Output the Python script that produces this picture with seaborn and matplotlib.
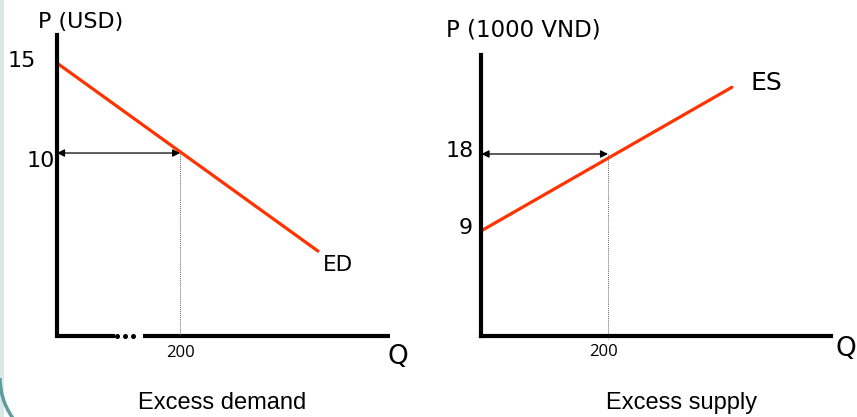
import matplotlib
matplotlib.use("Agg")
import matplotlib.pyplot as plt
import seaborn as sns
from matplotlib.patches import Arc, Rectangle

sns.set_theme(style="white")
plt.rcParams['font.family'] = ['DejaVu Sans']
plt.rcParams['text.color'] = 'black'

# ---- data ----
ed_q = [0, 424]
ed_p = [15, 4.55]
es_q = [0, 395]
es_p = [9, 25.8]
ed_point = (200, 10)
es_point = (200, 18)
left_yticks = [15, 10]
right_yticks = [18, 9]
q_tick = 200
titles = ["Excess demand", "Excess supply"]
ylabels = ["P (USD)", "P (1000 VND)"]
curve_labels = ["ED", "ES"]

RED = "#ff3300"
W, H = 857, 417
fig = plt.figure(figsize=(W / 100, H / 100), dpi=100)
fig.patch.set_facecolor("white")

def fx(px):
    return px / W

def fy(py):
    return 1 - py / H

# slide decoration
fig.patches.append(Rectangle((0, 0), fx(3.5), 1, transform=fig.transFigure,
                             facecolor="#dbe8e8", edgecolor="none", zorder=0))
fig.patches.append(Arc((fx(69), fy(378)), 2 * 69 / W, 2 * 69 / H, theta1=180, theta2=240,
                       transform=fig.transFigure, color="#5f9c9c", lw=2.5, zorder=1))

# ---- left panel ----
axL = fig.add_axes([fx(57), fy(336), fx(333), (336 - 35) / H])
axL.set_xlim(0, 541)
axL.set_ylim(-0.17, 16.56)
sns.lineplot(x=ed_q, y=ed_p, ax=axL, color=RED, linewidth=2.3)
for s in ["top", "right", "bottom"]:
    axL.spines[s].set_visible(False)
axL.spines["left"].set_linewidth(3)
axL.spines["left"].set_color("black")
axL.set_xticks([])
axL.set_yticks([])
axL.set_xlabel("")
axL.set_ylabel("")
yb = -0.17
axL.plot([0, 94], [yb, yb], color="black", lw=3, clip_on=False, solid_capstyle="butt")
axL.plot([98, 111, 124], [yb] * 3, "o", color="black", ms=2.6, clip_on=False)
axL.plot([140, 541], [yb, yb], color="black", lw=3, clip_on=False, solid_capstyle="butt")
axL.plot([ed_point[0]] * 2, [ed_point[1], yb], color="#666666", lw=0.7,
         linestyle=(0, (1, 1)), clip_on=False)
axL.annotate("", xy=ed_point, xytext=(0, ed_point[1]),
             arrowprops=dict(arrowstyle="<|-|>", color="black", lw=0.9,
                             mutation_scale=11, shrinkA=0, shrinkB=0))
axL.annotate(str(left_yticks[0]), xy=(0, left_yticks[0]), xytext=(-35, 2),
             textcoords="offset pixels", ha="center", va="center", fontsize=16)
axL.annotate(str(left_yticks[1]), xy=(0, left_yticks[1]), xytext=(-16, -8),
             textcoords="offset pixels", ha="center", va="center", fontsize=16)
axL.annotate(str(q_tick), xy=(q_tick, yb), xytext=(0, -17),
             textcoords="offset pixels", ha="center", va="center", fontsize=12,
             family="Open Sans")

# ---- right panel ----
axR = fig.add_axes([fx(481), fy(336), fx(350), (336 - 55) / H])
axR.set_xlim(0, 551)
axR.set_ylim(-3.27, 29.57)
sns.lineplot(x=es_q, y=es_p, ax=axR, color=RED, linewidth=2.3)
for s in ["top", "right"]:
    axR.spines[s].set_visible(False)
for s in ["left", "bottom"]:
    axR.spines[s].set_linewidth(3)
    axR.spines[s].set_color("black")
axR.set_xticks([])
axR.set_yticks([])
axR.set_xlabel("")
axR.set_ylabel("")
ybr = -3.27
axR.plot([es_point[0]] * 2, [es_point[1], ybr - 0.4], color="#666666", lw=0.7,
         linestyle=(0, (1, 1)), clip_on=False)
axR.annotate("", xy=es_point, xytext=(0.8, es_point[1]),
             arrowprops=dict(arrowstyle="<|-|>", color="black", lw=0.9,
                             mutation_scale=11, shrinkA=0, shrinkB=0))
axR.annotate(str(right_yticks[0]), xy=(0, right_yticks[0]), xytext=(-21, 3),
             textcoords="offset pixels", ha="center", va="center", fontsize=16)
axR.annotate(str(right_yticks[1]), xy=(0, right_yticks[1]), xytext=(-15, 3),
             textcoords="offset pixels", ha="center", va="center", fontsize=16)
axR.annotate(str(q_tick), xy=(q_tick, ybr), xytext=(-5, -16),
             textcoords="offset pixels", ha="center", va="center", fontsize=12,
             family="Open Sans")

# ---- texts ----
fig.text(fx(81), fy(22), ylabels[0], ha="center", va="center", fontsize=16)
fig.text(fx(523), fy(30), ylabels[1], ha="center", va="center", fontsize=16.5)
fig.text(fx(338), fy(265), curve_labels[0], ha="center", va="center", fontsize=15.5)
fig.text(fx(766), fy(83), curve_labels[1], ha="center", va="center", fontsize=18)
fig.text(fx(398), fy(357), "Q", ha="center", va="center", fontsize=19)
fig.text(fx(846), fy(349), "Q", ha="center", va="center", fontsize=19)
fig.text(fx(222), fy(403), titles[0], ha="center", va="center", fontsize=17,
         family="Liberation Sans")
fig.text(fx(682), fy(403), titles[1], ha="center", va="center", fontsize=17,
         family="Liberation Sans")

fig.savefig("out.png", dpi=100)
